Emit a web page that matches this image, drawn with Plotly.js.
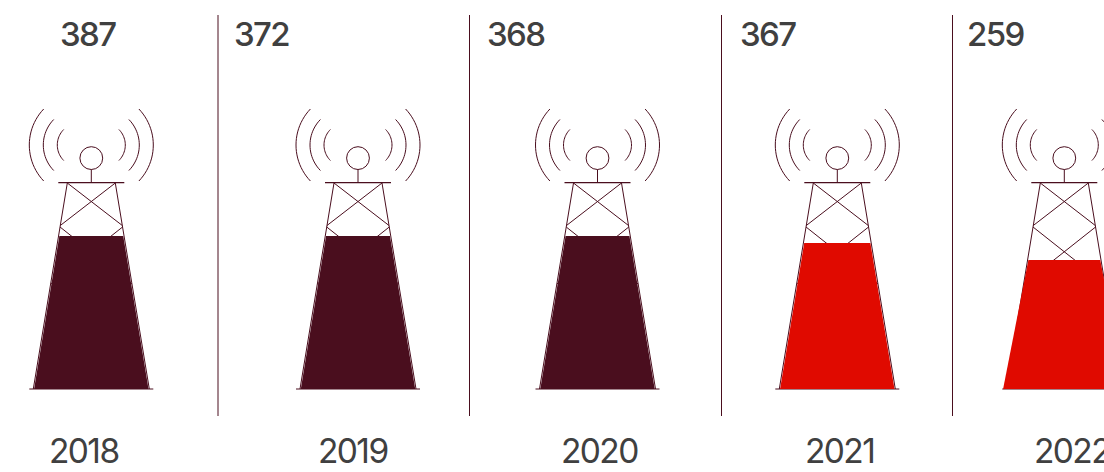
<!DOCTYPE html>
<html><head><meta charset="utf-8">
<script src="https://cdn.plot.ly/plotly-3.0.1.min.js"></script>
<style>html,body{margin:0;padding:0;background:#fff;overflow:hidden}#c{width:1104px;height:472px}
.annotation-text{letter-spacing:-1.6px}</style>
</head><body><div id="c"></div>
<script>
const years = ['2018','2019','2020','2021','2022'];
const values = ['387','372','368','367','259'];
const fillShare = [0.743, 0.743, 0.743, 0.709, 0.626];
const fillFlare = [0, 0, 0, 0, 4];
const fillColors = ['#4a0e1e','#4a0e1e','#4a0e1e','#e00a00','#e00a00'];
const towerCenters = [91.3, 358, 597.5, 837.3, 1064.3];
const dividers = [218, 469.5, 721.5, 952.5];
const valueLabelX = [57.5, 231.5, 485, 737.5, 964.5];
const yearLabelX = [84, 352.5, 599.5, 839.5, 1072];

const INK = '#4a0e1e', TEXT = '#404040';
const TOP = 183, BASE = 389, H = BASE - TOP;
const legX = y => 24 + (y - TOP) * 34 / H;   // half width of the tower at height y
const traces = [];
function line(xs, ys, w, color) {
  traces.push({type:'scatter', mode:'lines', x:xs, y:ys, hoverinfo:'skip', showlegend:false,
    line:{color:color||INK, width:w||1, simplify:false}});
}
function arc(cx, cy, R, halfH, side) {
  const a = Math.asin(halfH / R), xs = [], ys = [];
  for (let i = 0; i <= 24; i++) {
    const t = -a + 2 * a * i / 24;
    xs.push(cx + side * R * Math.cos(t));
    ys.push(cy + R * Math.sin(t));
  }
  line(xs, ys, 1);
}
const shapes = dividers.map(x => ({type:'line', xref:'x', yref:'y', x0:x, x1:x, y0:15, y1:416,
  line:{color:INK, width:1}}));

towerCenters.forEach((c, i) => {
  [[52.2,36,62],[36.4,25.5,48],[22,15.5,34]].forEach(([R, h, reach]) => {
    const centre = reach - R;
    arc(c + centre, 145, R, h, 1);
    arc(c - centre, 145, R, h, -1);
  });
  shapes.push({type:'circle', xref:'x', yref:'y', x0:c-11.4, x1:c+11.4, y0:146.7, y1:169.5,
    line:{color:INK, width:1}, fillcolor:'rgba(0,0,0,0)'});
  line([c,c],[169.5,182.5]);
  line([c-33,c+33],[182.7,182.7],1.2);
  line([c-62,c+62],[389,389],1.2);
  line([c-legX(TOP), c-legX(BASE)], [TOP, BASE]);
  line([c+legX(TOP), c+legX(BASE)], [TOP, BASE]);
  const y1 = 225.5, y2 = 227, y3 = 284;
  line([c-legX(TOP), c+legX(y1)], [TOP, y1]);
  line([c+legX(TOP), c-legX(y1)], [TOP, y1]);
  line([c-legX(y2), c+legX(y3)], [y2, y3]);
  line([c+legX(y2), c-legX(y3)], [y2, y3]);
  const top = BASE - fillShare[i] * H, inset = 0.8, f = fillFlare[i];
  traces.push({type:'scatter', mode:'lines', fill:'toself', fillcolor:fillColors[i], hoverinfo:'text',
    text:years[i]+': '+values[i], showlegend:false, line:{width:0, color:fillColors[i]},
    x:[c-legX(top)+inset, c+legX(top)-inset, c+legX(BASE)-inset+f, c-legX(BASE)+inset-f, c-legX(top)+inset],
    y:[top, top, BASE, BASE, top]});
});

const annotations = [];
values.forEach((v, i) => annotations.push({xref:'x', yref:'y', x:valueLabelX[i], y:34, text:v, showarrow:false,
  xanchor:'left', yanchor:'middle', font:{family:'Inter', size:33, weight:500, color:TEXT}}));
years.forEach((v, i) => annotations.push({xref:'x', yref:'y', x:yearLabelX[i], y:451, text:v, showarrow:false,
  xanchor:'center', yanchor:'middle', font:{family:'Inter', size:33.5, color:TEXT}}));

Plotly.newPlot('c', traces, {
  width:1104, height:472, margin:{l:0,r:0,t:0,b:0}, paper_bgcolor:'#fff', plot_bgcolor:'#fff',
  showlegend:false, shapes, annotations,
  xaxis:{range:[0,1104], visible:false, fixedrange:true},
  yaxis:{range:[472,0], visible:false, fixedrange:true}
}, {displayModeBar:false, staticPlot:true});
</script></body></html>
